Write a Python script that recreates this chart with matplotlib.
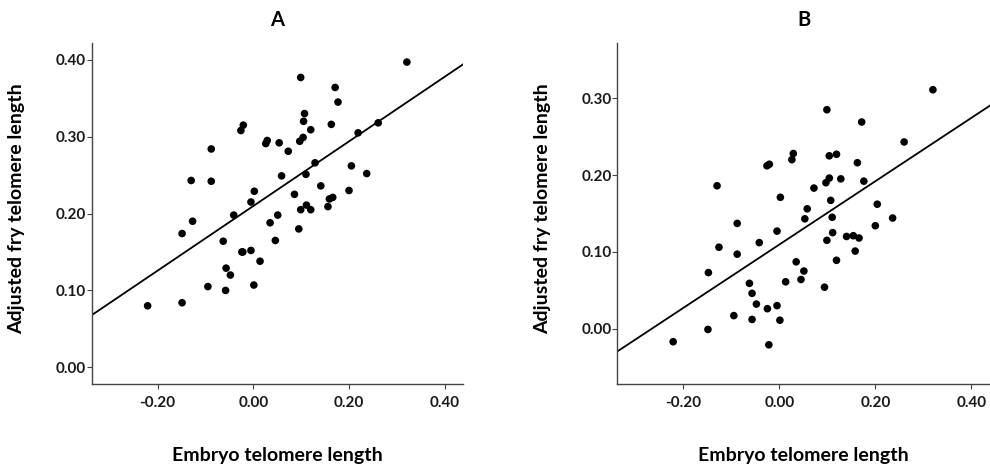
import matplotlib
matplotlib.use("Agg")
import matplotlib.pyplot as plt
import numpy as np

plt.rcParams['font.family'] = ['Lato', 'DejaVu Sans']
plt.rcParams['axes.unicode_minus'] = False

# Panel A: embryo vs adjusted fry telomere length
embryo_a = [-0.221, -0.149, -0.149, -0.130, -0.127, -0.088, -0.088, -0.095, -0.063, -0.057,
            -0.058, -0.048, -0.041, -0.026, -0.021, -0.024, -0.022, -0.005, -0.005, 0.002,
            0.001, 0.014, 0.026, 0.029, 0.035, 0.046, 0.051, 0.054, 0.059, 0.073,
            0.086, 0.095, 0.099, 0.097, 0.104, 0.105, 0.107, 0.099, 0.110, 0.111,
            0.120, 0.120, 0.129, 0.141, 0.156, 0.159, 0.166, 0.163, 0.171, 0.177,
            0.200, 0.205, 0.219, 0.237, 0.261, 0.321]
fry_a = [0.080, 0.084, 0.174, 0.243, 0.190, 0.284, 0.242, 0.105, 0.164, 0.129,
         0.100, 0.120, 0.198, 0.308, 0.315, 0.150, 0.150, 0.152, 0.215, 0.229,
         0.107, 0.138, 0.291, 0.295, 0.188, 0.165, 0.198, 0.292, 0.249, 0.281,
         0.225, 0.180, 0.377, 0.294, 0.299, 0.320, 0.330, 0.205, 0.251, 0.211,
         0.205, 0.309, 0.266, 0.236, 0.209, 0.219, 0.221, 0.316, 0.364, 0.345,
         0.230, 0.262, 0.305, 0.252, 0.318, 0.397]

# Panel B
embryo_b = [-0.2215, -0.149, -0.148, -0.130, -0.126, -0.095, -0.088, -0.088, -0.0625, -0.057,
            -0.057, -0.048, -0.042, -0.026, -0.021, -0.025, -0.022, -0.005, -0.005, 0.002,
            0.001, 0.013, 0.026, 0.029, 0.035, 0.045, 0.051, 0.053, 0.058, 0.072,
            0.094, 0.099, 0.097, 0.099, 0.104, 0.104, 0.107, 0.110, 0.111, 0.119,
            0.119, 0.128, 0.140, 0.154, 0.158, 0.166, 0.1625, 0.1715, 0.176, 0.200,
            0.204, 0.236, 0.260, 0.320]
fry_b = [-0.017, -0.001, 0.073, 0.186, 0.106, 0.017, 0.137, 0.097, 0.059, 0.046,
         0.012, 0.032, 0.112, 0.212, 0.214, 0.026, -0.021, 0.030, 0.127, 0.171,
         0.011, 0.061, 0.220, 0.228, 0.087, 0.064, 0.075, 0.143, 0.156, 0.183,
         0.054, 0.285, 0.190, 0.115, 0.196, 0.225, 0.167, 0.145, 0.125, 0.227,
         0.089, 0.195, 0.120, 0.121, 0.101, 0.118, 0.216, 0.269, 0.192, 0.134,
         0.162, 0.144, 0.243, 0.311]

x_ticks = [-0.20, 0.00, 0.20, 0.40]
yticks_a = [0.00, 0.10, 0.20, 0.30, 0.40]
yticks_b = [0.00, 0.10, 0.20, 0.30]

fig = plt.figure(figsize=(9.9, 4.66), dpi=100)
ax_a = fig.add_axes([0.0926, 0.176, 0.3754, 0.732])
ax_b = fig.add_axes([0.6235, 0.176, 0.3765, 0.732])

panels = [
    (ax_a, embryo_a, fry_a, yticks_a, (-0.0217, 0.422), 'A'),
    (ax_b, embryo_b, fry_b, yticks_b, (-0.072, 0.372), 'B'),
]

for ax, xs, ys, yt, ylim, title in panels:
    xlim = (-0.338, 0.439)
    ax.scatter(xs, ys, s=30, color='black', edgecolors='none', zorder=3)
    # least-squares fit line across the full x range
    slope, icpt = np.polyfit(xs, ys, 1)
    xl = np.array(xlim)
    ax.plot(xl, slope * xl + icpt, color='black', lw=1.3, zorder=2)
    ax.set_xlim(xlim)
    ax.set_ylim(ylim)
    ax.set_xticks(x_ticks)
    ax.set_yticks(yt)
    ax.set_xticklabels([f'{v:.2f}' for v in x_ticks], fontweight='bold')
    ax.set_yticklabels([f'{v:.2f}' for v in yt], fontweight='bold')
    ax.tick_params(labelsize=11, length=3.5, width=0.8, color='#444444', labelcolor='#1a1a1a')
    ax.tick_params(axis='x', pad=5)
    ax.tick_params(axis='y', pad=0.5)
    for side in ('top', 'right'):
        ax.spines[side].set_visible(False)
    for side in ('left', 'bottom'):
        ax.spines[side].set_color('#444444')
        ax.spines[side].set_linewidth(1.0)
    ax.set_title(title, fontsize=14.5, fontweight='bold', pad=12)
    ax.set_xlabel('Embryo telomere length', fontsize=14, fontweight='bold')
    ax.set_ylabel('Adjusted fry telomere length', fontsize=14, fontweight='bold')
    ax.xaxis.set_label_coords(0.5, -0.185)
    ax.yaxis.set_label_coords(-0.178, 0.515)

fig.savefig('out.png', dpi=100)
